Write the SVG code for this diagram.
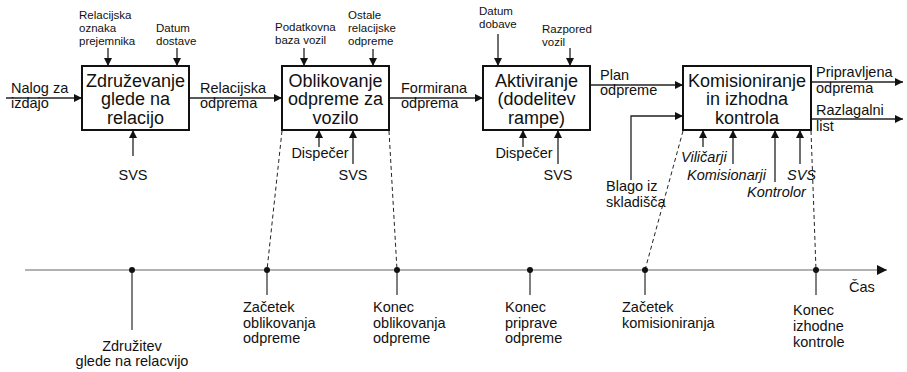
<svg xmlns="http://www.w3.org/2000/svg" width="907" height="372" viewBox="0 0 907 372">
<style>
text{font-family:"Liberation Sans",Arial,sans-serif;fill:#111}
.box{fill:#fff;stroke:#111;stroke-width:2}
.bt{font-size:18px;text-anchor:middle}
.sm{font-size:11.5px}
.md{font-size:14.5px}
.it{font-size:14.5px;font-style:italic}
.c{text-anchor:middle}
.ln{fill:none;stroke:#222;stroke-width:1.3}
.arr{marker-end:url(#ah)}
.dash{fill:none;stroke:#222;stroke-width:1;stroke-dasharray:4,3}
.tl{stroke:#999;stroke-width:1.3;fill:none}
.stem{stroke:#555;stroke-width:1.5}
</style>
<defs>
<marker id="ah" viewBox="0 0 10 10" refX="10" refY="5" markerWidth="9" markerHeight="8" markerUnits="userSpaceOnUse" orient="auto">
<path d="M0,0 L10,5 L0,10 z" fill="#111"/>
</marker>
<marker id="ah2" viewBox="0 0 10 10" refX="10" refY="5" markerWidth="11" markerHeight="10" markerUnits="userSpaceOnUse" orient="auto">
<path d="M0,0 L10,5 L0,10 z" fill="#111"/>
</marker>
</defs>

<g id="connectors">
<!-- box1 -->
<line class="ln arr" x1="6" y1="98" x2="82" y2="98"/>
<line class="ln arr" x1="108" y1="48" x2="108" y2="66"/>
<line class="ln arr" x1="177" y1="48" x2="177" y2="66"/>
<line class="ln arr" x1="133" y1="156" x2="133" y2="130"/>
<line class="ln arr" x1="189" y1="98" x2="282" y2="98"/>
<!-- box2 -->
<line class="ln arr" x1="304" y1="48" x2="304" y2="66"/>
<line class="ln arr" x1="373" y1="49" x2="373" y2="66"/>
<line class="ln arr" x1="319" y1="147" x2="319" y2="130"/>
<line class="ln arr" x1="353" y1="164" x2="353" y2="130"/>
<line class="ln arr" x1="389" y1="98" x2="483" y2="98"/>
<!-- box3 -->
<line class="ln arr" x1="498" y1="34" x2="498" y2="66"/>
<line class="ln arr" x1="570" y1="48" x2="570" y2="66"/>
<line class="ln arr" x1="523" y1="147" x2="523" y2="130"/>
<line class="ln arr" x1="558" y1="164" x2="558" y2="130"/>
<line class="ln arr" x1="590" y1="85" x2="683" y2="85"/>
<!-- box4 -->
<polyline class="ln arr" points="631,180 631,116 683,116"/>
<line class="ln arr" x1="703" y1="147" x2="703" y2="130"/>
<line class="ln arr" x1="733" y1="164" x2="733" y2="130"/>
<line class="ln arr" x1="775" y1="182" x2="775" y2="130"/>
<line class="ln arr" x1="800" y1="164" x2="800" y2="130"/>
<line class="ln arr" x1="811" y1="82" x2="903" y2="82"/>
<line class="ln arr" x1="811" y1="119" x2="903" y2="119"/>
<!-- dashed projections -->
<line class="dash" x1="282" y1="131" x2="267" y2="270"/>
<line class="dash" x1="389" y1="131" x2="397" y2="270"/>
<line class="dash" x1="683" y1="131" x2="645" y2="270"/>
<line class="dash" x1="811" y1="131" x2="816" y2="270"/>
</g>

<g id="box1">
<rect class="box" x="82" y="66" width="107" height="64"/>
<text class="bt" x="135.5" y="86.5">Združevanje</text>
<text class="bt" x="135.5" y="105">glede na</text>
<text class="bt" x="135.5" y="123.5">relacijo</text>
</g>
<g id="box2">
<rect class="box" x="282" y="66" width="107" height="64"/>
<text class="bt" x="335.5" y="86.5">Oblikovanje</text>
<text class="bt" x="335.5" y="105">odpreme za</text>
<text class="bt" x="335.5" y="123.5">vozilo</text>
</g>
<g id="box3">
<rect class="box" x="483" y="66" width="107" height="64"/>
<text class="bt" x="536.5" y="86.5">Aktiviranje</text>
<text class="bt" x="536.5" y="105">(dodelitev</text>
<text class="bt" x="536.5" y="123.5">rampe)</text>
</g>
<g id="box4">
<rect class="box" x="683" y="66" width="128" height="64"/>
<text class="bt" x="747" y="86.5">Komisioniranje</text>
<text class="bt" x="747" y="105">in izhodna</text>
<text class="bt" x="747" y="123.5">kontrola</text>
</g>

<g id="labels">
<text class="sm" x="79" y="18.5">Relacijska</text>
<text class="sm" x="79" y="32">oznaka</text>
<text class="sm" x="79" y="45">prejemnika</text>
<text class="sm" x="156" y="32">Datum</text>
<text class="sm" x="156" y="45">dostave</text>
<text class="md" x="11" y="93">Nalog za</text>
<text class="md" x="11" y="108">izdajo</text>
<text class="md c" x="133" y="180">SVS</text>
<text class="md" x="200" y="93">Relacijska</text>
<text class="md" x="200" y="108">odprema</text>

<text class="sm" x="275" y="31">Podatkovna</text>
<text class="sm" x="275" y="44">baza vozil</text>
<text class="sm" x="348" y="18.5">Ostale</text>
<text class="sm" x="348" y="31.5">relacijske</text>
<text class="sm" x="348" y="45">odpreme</text>
<text class="md c" x="320" y="158">Dispečer</text>
<text class="md c" x="353" y="180">SVS</text>
<text class="md" x="401" y="93">Formirana</text>
<text class="md" x="401" y="108">odprema</text>

<text class="sm" x="479" y="14.5">Datum</text>
<text class="sm" x="479" y="28">dobave</text>
<text class="sm" x="542" y="33">Razpored</text>
<text class="sm" x="542" y="46">vozil</text>
<text class="md c" x="524" y="158">Dispečer</text>
<text class="md c" x="558" y="180">SVS</text>
<text class="md" x="600" y="80">Plan</text>
<text class="md" x="600" y="95">odpreme</text>

<text class="md" x="606" y="191">Blago iz</text>
<text class="md" x="606" y="207">skladišča</text>
<text class="it" x="681" y="162">Viličarji</text>
<text class="it" x="687" y="180">Komisionarji</text>
<text class="it" x="747" y="197">Kontrolor</text>
<text class="it" x="787" y="180">SVS</text>
<text class="md" x="816" y="77">Pripravljena</text>
<text class="md" x="816" y="93">odprema</text>
<text class="md" x="816" y="115">Razlagalni</text>
<text class="md" x="816" y="131">list</text>
</g>

<g id="timeline">
<line class="tl" x1="25" y1="270" x2="887" y2="270" marker-end="url(#ah2)"/>
<text class="md" x="849" y="292">Čas</text>
</g>
<g id="t1">
<line class="stem" x1="132" y1="270" x2="132" y2="330"/>
<circle cx="132" cy="270" r="3" fill="#111"/>
<text class="md c" x="132" y="351">Združitev</text>
<text class="md c" x="132" y="366">glede na relacvijo</text>
</g>
<g id="t2">
<line class="stem" x1="267" y1="270" x2="267" y2="295"/>
<circle cx="267" cy="270" r="3" fill="#111"/>
<text class="md" x="243" y="312">Začetek</text>
<text class="md" x="243" y="327.5">oblikovanja</text>
<text class="md" x="243" y="343">odpreme</text>
</g>
<g id="t3">
<line class="stem" x1="397" y1="270" x2="397" y2="295"/>
<circle cx="397" cy="270" r="3" fill="#111"/>
<text class="md" x="373" y="312">Konec</text>
<text class="md" x="373" y="327.5">oblikovanja</text>
<text class="md" x="373" y="343">odpreme</text>
</g>
<g id="t4">
<line class="stem" x1="530" y1="270" x2="530" y2="295"/>
<circle cx="530" cy="270" r="3" fill="#111"/>
<text class="md" x="505" y="312">Konec</text>
<text class="md" x="505" y="327.5">priprave</text>
<text class="md" x="505" y="343">odpreme</text>
</g>
<g id="t5">
<line class="stem" x1="645" y1="270" x2="645" y2="295"/>
<circle cx="645" cy="270" r="3" fill="#111"/>
<text class="md" x="622" y="312">Začetek</text>
<text class="md" x="622" y="327.5">komisioniranja</text>
</g>
<g id="t6">
<line class="stem" x1="816" y1="270" x2="816" y2="295"/>
<circle cx="816" cy="270" r="3" fill="#111"/>
<text class="md" x="793" y="315">Konec</text>
<text class="md" x="793" y="331">izhodne</text>
<text class="md" x="793" y="347">kontrole</text>
</g>
</svg>
